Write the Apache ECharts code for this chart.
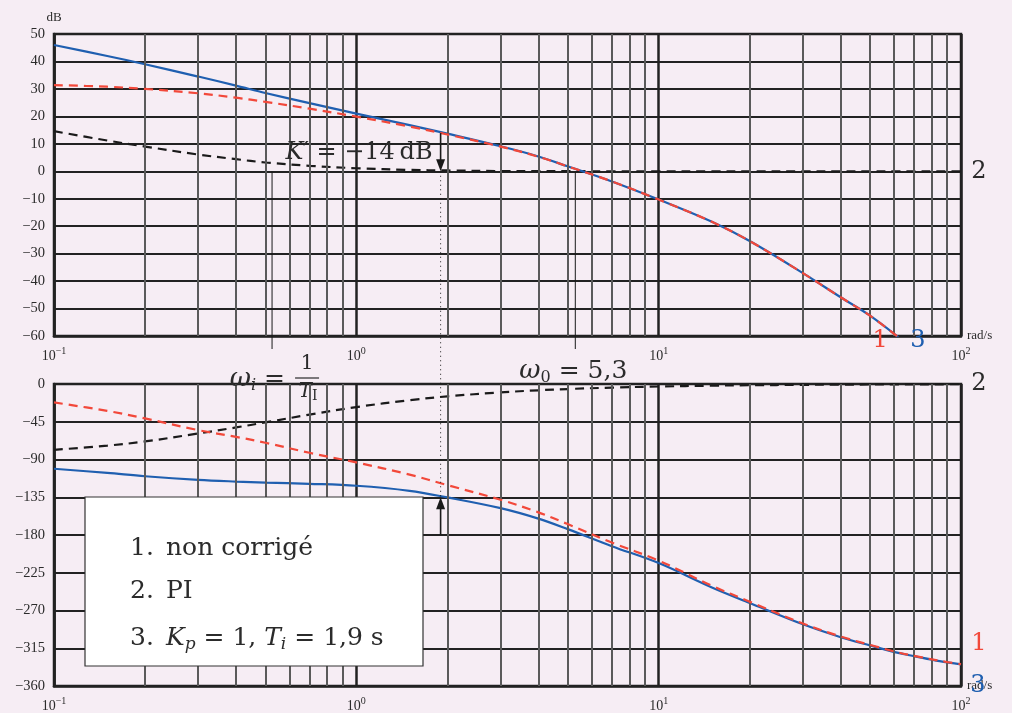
<!DOCTYPE html>
<html>
<head>
<meta charset="utf-8">
<script src="https://cdn.jsdelivr.net/npm/echarts@6/dist/echarts.min.js"></script>
<style>
  html, body { margin: 0; padding: 0; background: #f6edf4; }
  #chart { width: 1012px; height: 713px; }
</style>
</head>
<body>
<div id="chart"></div>
<script>
// Pulsation (rad/s) at which each curve is sampled
const omega = [0.1, 0.15, 0.2, 0.3, 0.4, 0.5, 0.7, 1, 1.5, 2, 3, 4, 5, 7, 10, 15, 20, 30, 40, 50, 62, 70, 85, 100];

// Gain (dB)
const magUncorrected = [31.4, 30.8, 30.0, 28.4, 26.8, 25.3, 22.8, 19.9, 16.3, 13.4, 9.0, 5.3, 1.8, -3.7, -10.3, -18.4, -25.4, -37.1, -45.9, -52.6, -60.4, null, null, null];
const magPI = [14.6, 11.2, 9.0, 6.1, 4.4, 3.2, 2.0, 1.1, 0.5, 0.3, 0.1, 0.1, 0.05, 0, 0, 0, 0, 0, 0, 0, 0, 0, 0, 0];
const magCorrected = [46.0, 42.0, 39.0, 34.5, 31.2, 28.5, 24.8, 21.0, 16.8, 13.7, 9.1, 5.4, 1.8, -3.7, -10.3, -18.4, -25.4, -37.1, -45.9, -52.6, -60.4, null, null, null];

// Phase (degrees)
const phaseUncorrected = [-22, -32, -41, -55, -63, -70, -82, -93.5, -108, -120.5, -138, -153, -167, -189, -210.5, -240.5, -259.5, -285.5, -301, -311, -320, -324, -330, -334];
const phasePI = [-78.5, -73.5, -68.5, -59, -51.8, -45.8, -36.5, -27.5, -19.3, -14.7, -10, -7.5, -6, -4.3, -3, -2, -1.5, -1, -0.8, -0.6, -0.5, -0.4, -0.35, -0.3];
const phaseCorrected = [-101, -106, -110, -114.3, -116.3, -117.5, -119, -121.3, -127.3, -135.2, -148, -160.5, -173, -193.3, -213.5, -242.5, -261, -286.5, -301.8, -311.6, -320.5, -324.4, -330.4, -334.3];

// Axis ranges and tick steps
const magRange = [-60, 50], magStep = 10;
const phaseRange = [-360, 0], phaseStep = 45;
const freqRange = [0.1, 100];
const minorMultipliers = [2, 3, 4, 5, 6, 7, 8, 9];

// Marked pulsations
const omegaI = 1 / 1.9;      // 1/Ti
const omega0 = 5.3;          // crossover of the uncorrected loop
const omegaC = 1.9;          // where K' is read
const kPrimeDb = 13.9;       // gain of the corrected loop at omegaC
const phaseAtC = -135;

const legendItems = ['non corrigé', 'PI', '{i|K}{sub|p} = 1, {i|T}{sub|i} = 1,9 s'];

const C = { blue: '#1f5fb0', red: '#f2483a', black: '#1a1a1a', major: '#222', minor: '#5a5a5a', text: '#2b2b2b' };
const tickFont = 'Liberation Serif';
const bigFont = 'DejaVu Serif';

const pairs = (ys) => omega.map((w, i) => [w, ys[i]]);
const minorValues = [];
[0.1, 1, 10].forEach(d => minorMultipliers.forEach(m => minorValues.push(+(d * m).toPrecision(3))));

const chart = echarts.init(document.getElementById('chart'), null, { renderer: 'canvas' });

function xAxisFor(gridIndex) {
  return {
    type: 'log', logBase: 10, gridIndex,
    min: freqRange[0], max: freqRange[1],
    name: 'rad/s', nameLocation: 'end', nameGap: 6,
    nameTextStyle: { fontFamily: tickFont, fontSize: 13, color: C.text, align: 'left', verticalAlign: 'middle' },
    axisLine: { show: true, onZero: false, lineStyle: { color: C.major, width: 2.5 } },
    axisTick: { show: false },
    minorTick: { show: false },
    splitLine: { show: true, lineStyle: { color: C.major, width: 2.5 } },
    axisLabel: {
      margin: 10,
      formatter: v => {
        const e = Math.round(Math.log10(v));
        return '{b|10}{s|' + (e < 0 ? '\u2212' : '') + Math.abs(e) + '}';
      },
      rich: {
        b: { fontFamily: tickFont, fontSize: 14, color: C.text, lineHeight: 20 },
        s: { fontFamily: tickFont, fontSize: 10, color: C.text, lineHeight: 10, verticalAlign: 'top' }
      }
    }
  };
}

function yAxisFor(gridIndex, range, step, name) {
  return {
    type: 'value', gridIndex,
    min: range[0], max: range[1], interval: step,
    name, nameLocation: 'end', nameGap: 10,
    nameTextStyle: { fontFamily: tickFont, fontSize: 13, color: C.text, align: 'center' },
    axisLine: { show: true, onZero: false, lineStyle: { color: C.major, width: 2.5 } },
    axisTick: { show: false },
    splitLine: { show: true, lineStyle: { color: C.major, width: 2 } },
    axisLabel: {
      margin: 9, fontFamily: tickFont, fontSize: 14.5, color: C.text,
      formatter: v => String(v).replace('-', '\u2212')
    }
  };
}

function minorGridSeries(idx, yBase) {
  return {
    type: 'line', xAxisIndex: idx, yAxisIndex: idx, z: 1, silent: true,
    data: [[freqRange[0], yBase], [freqRange[1], yBase]],
    showSymbol: false, lineStyle: { width: 0, opacity: 0 },
    markLine: {
      silent: true, symbol: 'none', label: { show: false }, animation: false,
      lineStyle: { color: C.minor, width: 2, type: 'solid' },
      data: minorValues.map(v => ({ xAxis: v }))
    }
  };
}

function curve(idx, ys, color, dashed, z) {
  return {
    type: 'line', xAxisIndex: idx, yAxisIndex: idx, z,
    data: pairs(ys), smooth: 0.35, showSymbol: false, connectNulls: false,
    clip: true, animation: false,
    lineStyle: { color, width: 2.2, type: dashed ? [9, 6] : 'solid' }
  };
}

chart.setOption({
  backgroundColor: '#f6edf4',
  animation: false,
  grid: [
    { left: 54, top: 34, width: 907, height: 302, show: true, borderColor: C.major, borderWidth: 2.5, backgroundColor: 'transparent' },
    { left: 54, top: 384, width: 907, height: 302, show: true, borderColor: C.major, borderWidth: 2.5, backgroundColor: 'transparent' }
  ],
  xAxis: [xAxisFor(0), xAxisFor(1)],
  yAxis: [yAxisFor(0, magRange, magStep, 'dB'), yAxisFor(1, phaseRange, phaseStep, '')],
  series: [
    minorGridSeries(0, 0),
    minorGridSeries(1, 0),
    curve(0, magPI, C.black, true, 3),
    curve(0, magCorrected, C.blue, false, 4),
    curve(0, magUncorrected, C.red, true, 5),
    curve(1, phasePI, C.black, true, 3),
    curve(1, phaseCorrected, C.blue, false, 4),
    curve(1, phaseUncorrected, C.red, true, 5)
  ]
});

// Annotations placed through the axes' own scales
const p0 = (x, y) => chart.convertToPixel({ gridIndex: 0 }, [x, y]);
const p1 = (x, y) => chart.convertToPixel({ gridIndex: 1 }, [x, y]);

function arrow(x, yFrom, yTo) {
  const dir = yTo > yFrom ? 1 : -1;
  const headLen = 12, headHalf = 4.5;
  return [
    { type: 'line', z: 20, shape: { x1: x, y1: yFrom, x2: x, y2: yTo - dir * headLen * 0.6 }, style: { stroke: C.black, lineWidth: 1.6 } },
    { type: 'polygon', z: 20, shape: { points: [[x, yTo], [x - headHalf, yTo - dir * headLen], [x + headHalf, yTo - dir * headLen]] }, style: { fill: C.black } }
  ];
}

const xI = p0(omegaI, 0)[0];
const x0 = p0(omega0, 0)[0];
const xC = p0(omegaC, 0)[0];
const yZero = p0(omegaC, 0)[1];
const yBottomTop = p0(omegaC, magRange[0])[1];
const yK = p0(omegaC, kPrimeDb)[1];
const yPhaseC = p1(omegaC, phaseAtC)[1];
const yPhaseFrom = p1(omegaC, -180)[1];
const xRight = p0(freqRange[1], 0)[0];

const graphics = [];
// thin guides at omega_i and omega_0
graphics.push({ type: 'line', z: 15, shape: { x1: xI, y1: yZero, x2: xI, y2: yBottomTop + 13 }, style: { stroke: C.black, lineWidth: 1 } });
graphics.push({ type: 'line', z: 15, shape: { x1: x0, y1: yZero, x2: x0, y2: yBottomTop + 13 }, style: { stroke: C.black, lineWidth: 1 } });
// dotted guide at omega_c through both plots
graphics.push({ type: 'line', z: 15, shape: { x1: xC, y1: yZero, x2: xC, y2: yPhaseC }, style: { stroke: C.black, lineWidth: 1, lineDash: [1, 3.5] } });
graphics.push(...arrow(xC, yK, yZero));
graphics.push(...arrow(xC, yPhaseFrom, yPhaseC));

// K' label
graphics.push({
  type: 'text', z: 22, x: xC - 8, y: yZero - 19,
  style: {
    text: '{i|K\u2032} = \u221214\u2009dB', align: 'right', verticalAlign: 'middle',
    fontFamily: bigFont, fontSize: 24, fill: C.text,
    rich: { i: { fontFamily: bigFont, fontSize: 24, fontStyle: 'italic', fill: C.text } }
  }
});

// omega_i = 1/T_I
graphics.push({
  type: 'text', z: 22, x: xI + 13, y: yBottomTop + 43,
  style: {
    text: '{w|\u03c9}{sub|i} =', align: 'right', verticalAlign: 'middle',
    fontFamily: bigFont, fontSize: 25, fill: C.text,
    rich: {
      w: { fontFamily: bigFont, fontSize: 26, fontStyle: 'italic', fill: C.text, lineHeight: 30 },
      sub: { fontFamily: bigFont, fontSize: 16, fontStyle: 'italic', fill: C.text, lineHeight: 12, verticalAlign: 'bottom' }
    }
  }
});
graphics.push({ type: 'text', z: 22, x: xI + 35, y: yBottomTop + 28, style: { text: '1', align: 'center', verticalAlign: 'middle', fontFamily: bigFont, fontSize: 20, fill: C.text } });
graphics.push({ type: 'line', z: 22, shape: { x1: xI + 23, y1: yBottomTop + 42, x2: xI + 47, y2: yBottomTop + 42 }, style: { stroke: C.text, lineWidth: 1.2 } });
graphics.push({
  type: 'text', z: 22, x: xI + 36, y: yBottomTop + 56,
  style: {
    text: '{t|T}{sub|I}', align: 'center', verticalAlign: 'middle',
    fontFamily: bigFont, fontSize: 20, fill: C.text,
    rich: {
      t: { fontFamily: bigFont, fontSize: 20, fontStyle: 'italic', fill: C.text, lineHeight: 22 },
      sub: { fontFamily: bigFont, fontSize: 14, fill: C.text, lineHeight: 10, verticalAlign: 'bottom' }
    }
  }
});

// omega_0 = 5,3
graphics.push({
  type: 'text', z: 22, x: x0 - 2, y: yBottomTop + 35,
  style: {
    text: '{w|\u03c9}{sub|0} = 5,3', align: 'center', verticalAlign: 'middle',
    fontFamily: bigFont, fontSize: 25, fill: C.text,
    rich: {
      w: { fontFamily: bigFont, fontSize: 26, fontStyle: 'italic', fill: C.text, lineHeight: 30 },
      sub: { fontFamily: bigFont, fontSize: 16, fill: C.text, lineHeight: 12, verticalAlign: 'bottom' }
    }
  }
});

// curve numbers
const numStyle = (t, color) => ({ text: t, fontFamily: bigFont, fontSize: 24, fill: color, align: 'center', verticalAlign: 'middle' });
graphics.push({ type: 'text', z: 22, x: xRight + 18, y: yZero, style: numStyle('2', C.text) });
graphics.push({ type: 'text', z: 22, x: p0(54, 0)[0], y: yBottomTop + 5, style: numStyle('1', C.red) });
graphics.push({ type: 'text', z: 22, x: p0(72, 0)[0], y: yBottomTop + 5, style: numStyle('3', C.blue) });
graphics.push({ type: 'text', z: 22, x: xRight + 18, y: p1(100, 0)[1], style: numStyle('2', C.text) });
graphics.push({ type: 'text', z: 22, x: xRight + 18, y: p1(100, -310)[1], style: numStyle('1', C.red) });
graphics.push({ type: 'text', z: 22, x: xRight + 17, y: p1(100, -360)[1], style: numStyle('3', C.blue) });

// legend box
graphics.push({ type: 'rect', z: 30, shape: { x: 85, y: 497, width: 338, height: 169 }, style: { fill: '#ffffff', stroke: '#333', lineWidth: 1.2 } });
const legendRich = {
  i: { fontFamily: bigFont, fontSize: 25, fontStyle: 'italic', fill: C.text, lineHeight: 30 },
  sub: { fontFamily: bigFont, fontSize: 17, fontStyle: 'italic', fill: C.text, lineHeight: 14, verticalAlign: 'bottom' }
};
const legendY = [548, 591, 638];
legendItems.forEach((t, k) => {
  graphics.push({ type: 'text', z: 31, x: 130, y: legendY[k], style: { text: (k + 1) + '.', fontFamily: bigFont, fontSize: 25, fill: C.text, verticalAlign: 'middle' } });
  graphics.push({ type: 'text', z: 31, x: 166, y: legendY[k], style: { text: t, fontFamily: bigFont, fontSize: 25, fill: C.text, verticalAlign: 'middle', rich: legendRich } });
});

chart.setOption({ graphic: graphics });
</script>
</body>
</html>
